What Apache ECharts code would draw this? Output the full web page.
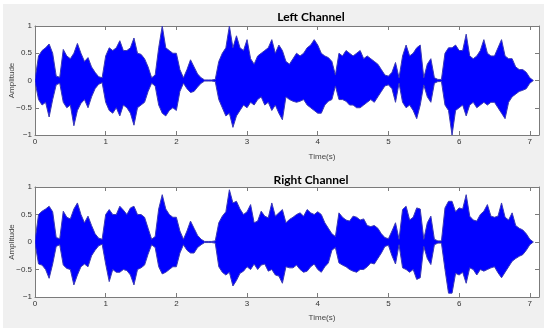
<!DOCTYPE html>
<html>
<head>
<meta charset="utf-8">
<script src="https://cdn.jsdelivr.net/npm/echarts@6/dist/echarts.min.js"></script>
<style>
  html, body { margin: 0; padding: 0; background: #fff; }
  #chart { width: 550px; height: 328px; }
</style>
</head>
<body>
<div id="chart"></div>
<script>
// envelope of the waveform, one sample every 0.05 s
const sampleStep = 0.05;
const timeTicks = [0, 1, 2, 3, 4, 5, 6, 7];

const leftUpper = [
  0.02, 0.45, 0.55, 0.6, 0.67, 0.5, 0.08, 0.06, 0.57, 0.45, 0.4, 0.5, 0.68, 0.5, 0.35, 0.42, 0.25, 0.15, 0.07, 0.05,
  0.45, 0.6, 0.55, 0.6, 0.73, 0.55, 0.55, 0.6, 0.78, 0.5, 0.48, 0.4, 0.25, 0.05, 0.1, 0.6, 1.0, 0.6, 0.55, 0.5,
  0.5, 0.2, 0.05, 0.2, 0.38, 0.25, 0.12, 0.05, 0.01, 0.01, 0.01, 0.02, 0.35, 0.5, 0.6, 1.0, 0.6, 0.82, 0.6, 0.55,
  0.75, 0.4, 0.3, 0.45, 0.5, 0.55, 0.6, 0.75, 0.5, 0.65, 0.55, 0.35, 0.3, 0.4, 0.5, 0.45, 0.5, 0.6, 0.65, 0.75,
  0.65, 0.5, 0.45, 0.42, 0.35, 0.1, 0.5, 0.45, 0.55, 0.5, 0.45, 0.5, 0.55, 0.4, 0.45, 0.4, 0.35, 0.3, 0.2, 0.1,
  0.08, 0.15, 0.33, 0.05, 0.45, 0.65, 0.45, 0.5, 0.6, 0.65, 0.05, 0.3, 0.4, 0.05, 0.02, 0.02, 0.5, 0.6, 0.6, 0.65,
  0.55, 0.55, 0.85, 0.45, 0.4, 0.45, 0.55, 0.75, 0.5, 0.45, 0.45, 0.6, 0.75, 0.45, 0.4, 0.4, 0.25, 0.2, 0.2, 0.15,
  0.05, 0
];
const leftLower = [
  -0.02, -0.35, -0.45, -0.4, -0.67, -0.35, -0.08, -0.05, -0.4, -0.5, -0.45, -0.83, -0.55, -0.42, -0.35, -0.5, -0.3, -0.15, -0.07, -0.04,
  -0.4, -0.55, -0.6, -0.5, -0.65, -0.45, -0.5, -0.6, -0.82, -0.5, -0.45, -0.4, -0.2, -0.05, -0.1, -0.45, -0.6, -0.65, -0.55, -0.5,
  -0.55, -0.2, -0.05, -0.15, -0.22, -0.2, -0.12, -0.05, -0.01, -0.01, -0.01, -0.02, -0.35, -0.5, -0.65, -0.6, -0.86, -0.65, -0.55, -0.45,
  -0.5, -0.4, -0.45, -0.35, -0.3, -0.45, -0.4, -0.55, -0.45, -0.6, -0.72, -0.3, -0.35, -0.38, -0.4, -0.38, -0.35, -0.45, -0.5, -0.55,
  -0.6, -0.6, -0.45, -0.38, -0.35, -0.1, -0.35, -0.35, -0.38, -0.45, -0.45, -0.5, -0.5, -0.45, -0.4, -0.35, -0.4, -0.3, -0.2, -0.1,
  -0.08, -0.15, -0.4, -0.05, -0.4, -0.5, -0.45, -0.55, -0.7, -0.45, -0.08, -0.3, -0.4, -0.05, -0.02, -0.02, -0.45, -0.55, -1.0, -0.55,
  -0.5, -0.45, -0.65, -0.45, -0.4, -0.5, -0.45, -0.4, -0.45, -0.4, -0.4, -0.5, -0.6, -0.7, -0.4, -0.3, -0.25, -0.2, -0.18, -0.15,
  -0.05, 0
];
const rightUpper = [
  0.02, 0.5, 0.56, 0.6, 0.65, 0.55, 0.08, 0.06, 0.56, 0.45, 0.42, 0.6, 0.71, 0.5, 0.35, 0.47, 0.3, 0.15, 0.07, 0.05,
  0.5, 0.59, 0.5, 0.5, 0.65, 0.58, 0.5, 0.62, 0.65, 0.5, 0.5, 0.45, 0.25, 0.05, 0.1, 0.6, 0.86, 0.6, 0.5, 0.45,
  0.45, 0.2, 0.05, 0.2, 0.38, 0.25, 0.12, 0.05, 0.01, 0.01, 0.01, 0.02, 0.35, 0.47, 0.55, 0.95, 0.71, 0.74, 0.6, 0.5,
  0.55, 0.68, 0.35, 0.38, 0.56, 0.47, 0.44, 0.71, 0.47, 0.53, 0.59, 0.35, 0.41, 0.45, 0.5, 0.53, 0.47, 0.59, 0.53, 0.5,
  0.55, 0.5, 0.35, 0.25, 0.15, 0.1, 0.53, 0.45, 0.4, 0.38, 0.47, 0.45, 0.4, 0.42, 0.3, 0.28, 0.3, 0.25, 0.15, 0.08,
  0.06, 0.2, 0.35, 0.05, 0.59, 0.65, 0.4, 0.45, 0.62, 0.6, 0.05, 0.35, 0.47, 0.05, 0.02, 0.02, 0.62, 0.74, 0.74, 0.55,
  0.62, 0.6, 0.86, 0.47, 0.4, 0.38, 0.5, 0.56, 0.68, 0.47, 0.45, 0.47, 0.71, 0.45, 0.4, 0.53, 0.3, 0.25, 0.22, 0.15,
  0.05, 0
];
const rightLower = [
  -0.02, -0.4, -0.42, -0.5, -0.66, -0.4, -0.08, -0.05, -0.42, -0.48, -0.5, -0.78, -0.6, -0.45, -0.4, -0.45, -0.25, -0.15, -0.07, -0.04,
  -0.4, -0.72, -0.5, -0.55, -0.55, -0.5, -0.52, -0.6, -0.78, -0.5, -0.47, -0.42, -0.22, -0.05, -0.1, -0.45, -0.58, -0.55, -0.5, -0.45,
  -0.45, -0.2, -0.05, -0.15, -0.2, -0.2, -0.1, -0.05, -0.01, -0.01, -0.01, -0.02, -0.45, -0.55, -0.6, -0.55, -0.8, -0.7, -0.57, -0.53,
  -0.45, -0.5, -0.4, -0.5, -0.42, -0.4, -0.53, -0.5, -0.6, -0.62, -0.75, -0.45, -0.47, -0.47, -0.42, -0.5, -0.55, -0.53, -0.45, -0.4,
  -0.5, -0.55, -0.45, -0.38, -0.15, -0.1, -0.38, -0.42, -0.45, -0.5, -0.53, -0.55, -0.5, -0.5, -0.45, -0.38, -0.4, -0.3, -0.2, -0.08,
  -0.06, -0.25, -0.4, -0.05, -0.47, -0.5, -0.55, -0.5, -0.68, -0.65, -0.08, -0.3, -0.41, -0.05, -0.02, -0.02, -0.5, -0.93, -0.93, -0.57,
  -0.6, -0.55, -0.75, -0.47, -0.5, -0.6, -0.5, -0.53, -0.5, -0.47, -0.45, -0.56, -0.65, -0.55, -0.45, -0.35, -0.3, -0.26, -0.23, -0.15,
  -0.05, 0
];

const chart = echarts.init(document.getElementById('chart'), null, { renderer: 'canvas' });

const axisGray = '#7b7b7b';
const labelColor = '#333';
const fontFam = 'Liberation Sans, Arial, sans-serif';

function xAxes(gridIndex) {
  const base = {
    gridIndex: gridIndex,
    type: 'value',
    min: 0,
    max: 7.13,
    axisLine: { show: true, onZero: false, lineStyle: { color: axisGray, width: 1 } },
    axisTick: { show: true, inside: true, length: 4, customValues: timeTicks, lineStyle: { color: axisGray } },
    splitLine: { show: false }
  };
  return [
    Object.assign({}, base, {
      position: 'bottom',
      axisLabel: { customValues: timeTicks, fontSize: 8, color: labelColor, margin: 3, fontFamily: fontFam }
    }),
    Object.assign({}, base, { position: 'top', axisLabel: { show: false } })
  ];
}

function yAxes(gridIndex) {
  const base = {
    gridIndex: gridIndex,
    type: 'value',
    min: -1,
    max: 1,
    interval: 0.5,
    axisLine: { show: true, onZero: false, lineStyle: { color: axisGray, width: 1 } },
    axisTick: { show: true, inside: true, length: 4, lineStyle: { color: axisGray } },
    splitLine: { show: false }
  };
  return [
    Object.assign({}, base, {
      position: 'left',
      name: 'Amplitude',
      nameLocation: 'middle',
      nameGap: 19,
      nameRotate: 90,
      nameMoveOverlap: false,
      nameTextStyle: { fontSize: 8, color: '#444', fontFamily: fontFam },
      axisLabel: {
        fontSize: 8, color: labelColor, margin: 3, fontFamily: fontFam,
        formatter: v => (v < 0 ? '\u2212' + Math.abs(v) : String(v))
      }
    }),
    Object.assign({}, base, { position: 'right', axisLabel: { show: false } })
  ];
}

// one closed polygon per channel: upper envelope forward, lower envelope back
function waveSeries(upper, lower, axisIdx) {
  return {
    type: 'custom',
    xAxisIndex: axisIdx,
    yAxisIndex: axisIdx,
    data: [[0, 0]],
    animation: false,
    silent: true,
    clip: true,
    z: 3,
    renderItem: function (params, api) {
      const pts = [];
      for (let i = 0; i < upper.length; i++) {
        pts.push(api.coord([i * sampleStep, upper[i]]));
      }
      for (let i = lower.length - 1; i >= 0; i--) {
        pts.push(api.coord([i * sampleStep, lower[i]]));
      }
      return {
        type: 'polygon',
        shape: { points: pts },
        style: { fill: '#0000ff', stroke: '#3a3ab6', lineWidth: 1 }
      };
    }
  };
}

const titleFont = { fontSize: 12, fontWeight: 'bold', color: '#000', fontFamily: 'Lato' };

const option = {
  backgroundColor: '#ffffff',
  animation: false,
  graphic: [{
    type: 'rect',
    z: -10,
    silent: true,
    shape: { x: 3, y: 4, width: 541, height: 324 },
    style: { fill: '#f0f0f0' }
  }],
  title: [
    { text: 'Left Channel', left: 306, top: 6, textAlign: 'center', textStyle: titleFont },
    { text: 'Right Channel', left: 306, top: 169, textAlign: 'center', textStyle: titleFont },
    { text: 'Time(s)', left: 317, top: 148, textAlign: 'center',
      textStyle: { fontSize: 8, fontWeight: 'normal', color: '#444', fontFamily: fontFam } },
    { text: 'Time(s)', left: 317, top: 309, textAlign: 'center',
      textStyle: { fontSize: 8, fontWeight: 'normal', color: '#444', fontFamily: fontFam } }
  ],
  grid: [
    { left: 35, top: 26, width: 504, height: 109, show: true, backgroundColor: '#fff', borderWidth: 0, outerBoundsMode: 'none', containLabel: false },
    { left: 35, top: 187, width: 504, height: 110, show: true, backgroundColor: '#fff', borderWidth: 0, outerBoundsMode: 'none', containLabel: false }
  ],
  xAxis: xAxes(0).concat(xAxes(1)),
  yAxis: yAxes(0).concat(yAxes(1)),
  series: [
    waveSeries(leftUpper, leftLower, 0),
    waveSeries(rightUpper, rightLower, 2)
  ]
};

chart.setOption(option);
</script>
</body>
</html>
